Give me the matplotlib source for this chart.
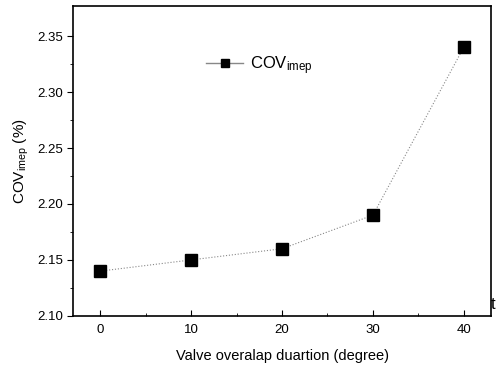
import matplotlib.pyplot as plt
from matplotlib.lines import Line2D
import numpy as np

plt.rcParams['font.family'] = ['Liberation Sans', 'DejaVu Sans']
plt.rcParams['mathtext.default'] = 'regular'

# Data
overlap = [0, 10, 20, 30, 40]
cov_imep = [2.14, 2.15, 2.16, 2.19, 2.34]

fig = plt.figure(figsize=(4.97, 3.69), dpi=100)
ax = fig.add_axes([0.147, 0.144, 0.841, 0.840])

ax.plot(overlap, cov_imep, linestyle=':', color='#888888', linewidth=0.8,
        marker='s', markersize=8.5, markerfacecolor='black', markeredgecolor='black')

ax.set_xlim(-3, 43)
ax.set_ylim(2.10, 2.377)
ax.set_xticks([0, 10, 20, 30, 40])
ax.set_xticks(np.arange(5, 40, 10), minor=True)
ax.set_yticks([2.10, 2.15, 2.20, 2.25, 2.30, 2.35])
ax.set_yticks(np.arange(2.125, 2.37, 0.05), minor=True)
ax.yaxis.set_major_formatter(plt.FormatStrFormatter('%.2f'))

ax.tick_params(axis='x', which='both', direction='in', labelsize=9.5, pad=6)
ax.tick_params(axis='y', which='both', direction='out', labelsize=9.5, pad=3)
ax.tick_params(which='major', length=4)
ax.tick_params(which='minor', length=2.5)
for s in ax.spines.values():
    s.set_linewidth(1.2)

ax.set_xlabel('Valve overalap duartion (degree)', fontsize=10.5, labelpad=9)
ax.set_ylabel('COV$_{imep}$ (%)', fontsize=11, labelpad=5)

handle = Line2D([], [], color='#888888', linewidth=1.0, marker='s', markersize=6,
                markerfacecolor='black', markeredgecolor='black')
ax.legend([handle], ['COV$_{imep}$'], loc='center left', bbox_to_anchor=(0.283, 0.807),
          frameon=False, fontsize=12, handlelength=2.2, handletextpad=0.4)

fig.text(0.988, 0.175, 't', fontsize=12, ha='left', va='center')

plt.savefig('out.png', dpi=100)
